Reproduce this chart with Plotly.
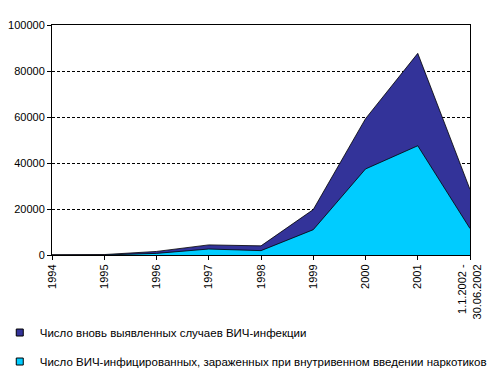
import plotly.graph_objects as go

categories = ["1994", "1995", "1996", "1997", "1998", "1999", "2000", "2001", "1.1.2002 -<br>30.06.2002"]
total_new = [100, 196, 1546, 4399, 3971, 19758, 59261, 87671, 28500]
idu_cases = [0, 0, 700, 2600, 1900, 11000, 37400, 47500, 11500]

name_total = "Число вновь выявленных случаев ВИЧ-инфекции"
name_idu = "Число ВИЧ-инфицированных, зараженных при внутривенном введении наркотиков"

fig = go.Figure()
fig.add_trace(go.Scatter(x=categories, y=total_new, name=name_total, mode="lines",
                         fill="tozeroy", fillcolor="#333399",
                         line=dict(color="#000000", width=0.8), showlegend=False))
fig.add_trace(go.Scatter(x=categories, y=idu_cases, name=name_idu, mode="lines",
                         fill="tozeroy", fillcolor="#00CCFF",
                         line=dict(color="#000000", width=0.8), showlegend=False))
# legend entries (square swatches like the original)
fig.add_trace(go.Scatter(x=[None], y=[None], name=name_total, mode="markers",
                         marker=dict(symbol="square", size=7, color="#333399",
                                     line=dict(color="#000000", width=1)),
                         legendgroup="a"))
fig.add_trace(go.Scatter(x=[None], y=[None], name=name_idu, mode="markers",
                         marker=dict(symbol="square", size=7, color="#00CCFF",
                                     line=dict(color="#000000", width=1)),
                         legendgroup="b"))

font = dict(family="Liberation Sans, Arial, sans-serif", size=11, color="#000000")
fig.update_layout(
    width=494, height=388,
    margin=dict(l=52, r=24, t=25, b=133, autoexpand=False),
    paper_bgcolor="white", plot_bgcolor="white",
    font=font,
    showlegend=True,
    legend=dict(x=-0.125, y=-0.274, xanchor="left", yanchor="top",
                font=dict(family="Liberation Sans, Arial, sans-serif", size=11.5, color="#000000"),
                tracegroupgap=10, bgcolor="rgba(0,0,0,0)"),
    xaxis=dict(type="category", range=[0, 8], showgrid=False, automargin=False,
               showline=True, linecolor="#000000", linewidth=1, mirror=True,
               ticks="outside", ticklen=4, tickcolor="#000000",
               tickangle=-90, tickfont=font, zeroline=False),
    yaxis=dict(range=[0, 100000], dtick=20000, showgrid=True, automargin=False,
               gridcolor="#000000", griddash="3px,2px", gridwidth=1,
               showline=True, linecolor="#000000", linewidth=1, mirror=True,
               ticks="outside", ticklen=4, tickcolor="#000000",
               tickfont=font, tickformat="d", zeroline=False),
)
fig.write_html("out.html", config={"displayModeBar": False},
               post_script="document.body.style.margin='0';document.body.style.overflow='hidden';")
